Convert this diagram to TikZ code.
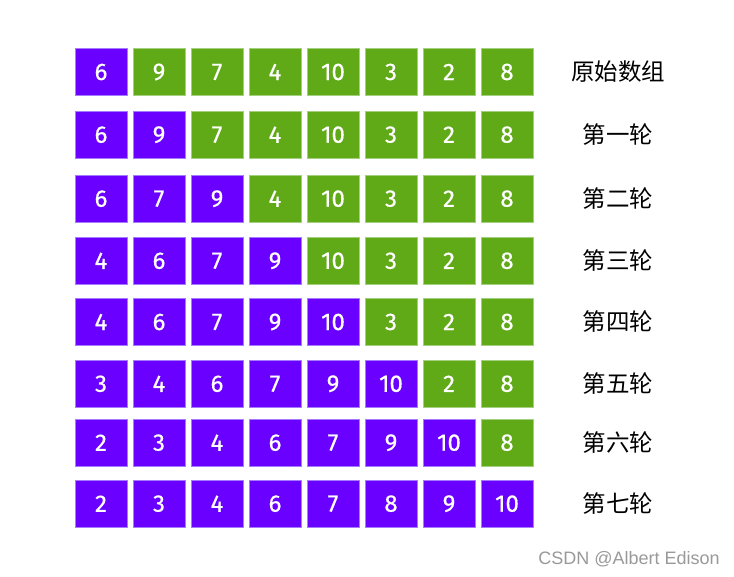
\documentclass[tikz,border=0pt]{standalone}
\usepackage{fontspec}
\setmainfont{Fira Sans}
\newfontfamily\digitfont{Fira Sans}[FakeBold=0.6]
\newfontfamily\cjkfont{Noto Sans CJK SC}
\newfontfamily\markfont{Liberation Sans}
\usetikzlibrary{positioning}
\definecolor{sortedfill}{HTML}{6A00FF}
\definecolor{sortedline}{HTML}{A77BFF}
\definecolor{restfill}{HTML}{60A917}
\definecolor{restline}{HTML}{A3D07E}
\tikzset{
  cell/.style={minimum width=52pt, minimum height=47pt, inner sep=0pt, outer sep=0pt,
    line width=1pt, text=white, font=\digitfont\fontsize{24}{24}\selectfont},
  sorted/.style={cell, fill=sortedfill, draw=sortedline},
  unsorted/.style={cell, fill=restfill, draw=restline},
  roundlabel/.style={font=\cjkfont\fontsize{23.5}{23.5}\selectfont, inner sep=0pt}
}

\begin{document}
\begin{tikzpicture}[x=1pt, y=-1pt]
    \useasboundingbox (0,0) rectangle (734,577);

    % Строки массива: значения / сколько уже отсортировано / подпись / высота
    \foreach \vals/\k/\lab/\y [count=\r] in {
        {6,9,7,4,10,3,2,8}/1/原始数组/72,
        {6,9,7,4,10,3,2,8}/2/第一轮/134.7,
        {6,7,9,4,10,3,2,8}/3/第二轮/198.7,
        {4,6,7,9,10,3,2,8}/4/第三轮/260.8,
        {4,6,7,9,10,3,2,8}/5/第四轮/322,
        {3,4,6,7,9,10,2,8}/6/第五轮/383.8,
        {2,3,4,6,7,9,10,8}/7/第六轮/442.7,
        {2,3,4,6,7,8,9,10}/8/第七轮/503.7}
    {
        \foreach \v [count=\i from 0] in \vals {
            \ifnum\i<\k \def\st{sorted}\else\def\st{unsorted}\fi
            \node[\st] (box-\r-\i) at ({101+58*\i},\y) {\v};
        }
        \node[roundlabel] (label-\r) at (618,\y) {\lab};
    }

    % Водяной знак
    \node[font=\markfont\fontsize{18}{18}\selectfont, text=black!40, inner sep=0pt]
        (mark) at (629,559) {CSDN @Albert Edison};
\end{tikzpicture}
\end{document}
